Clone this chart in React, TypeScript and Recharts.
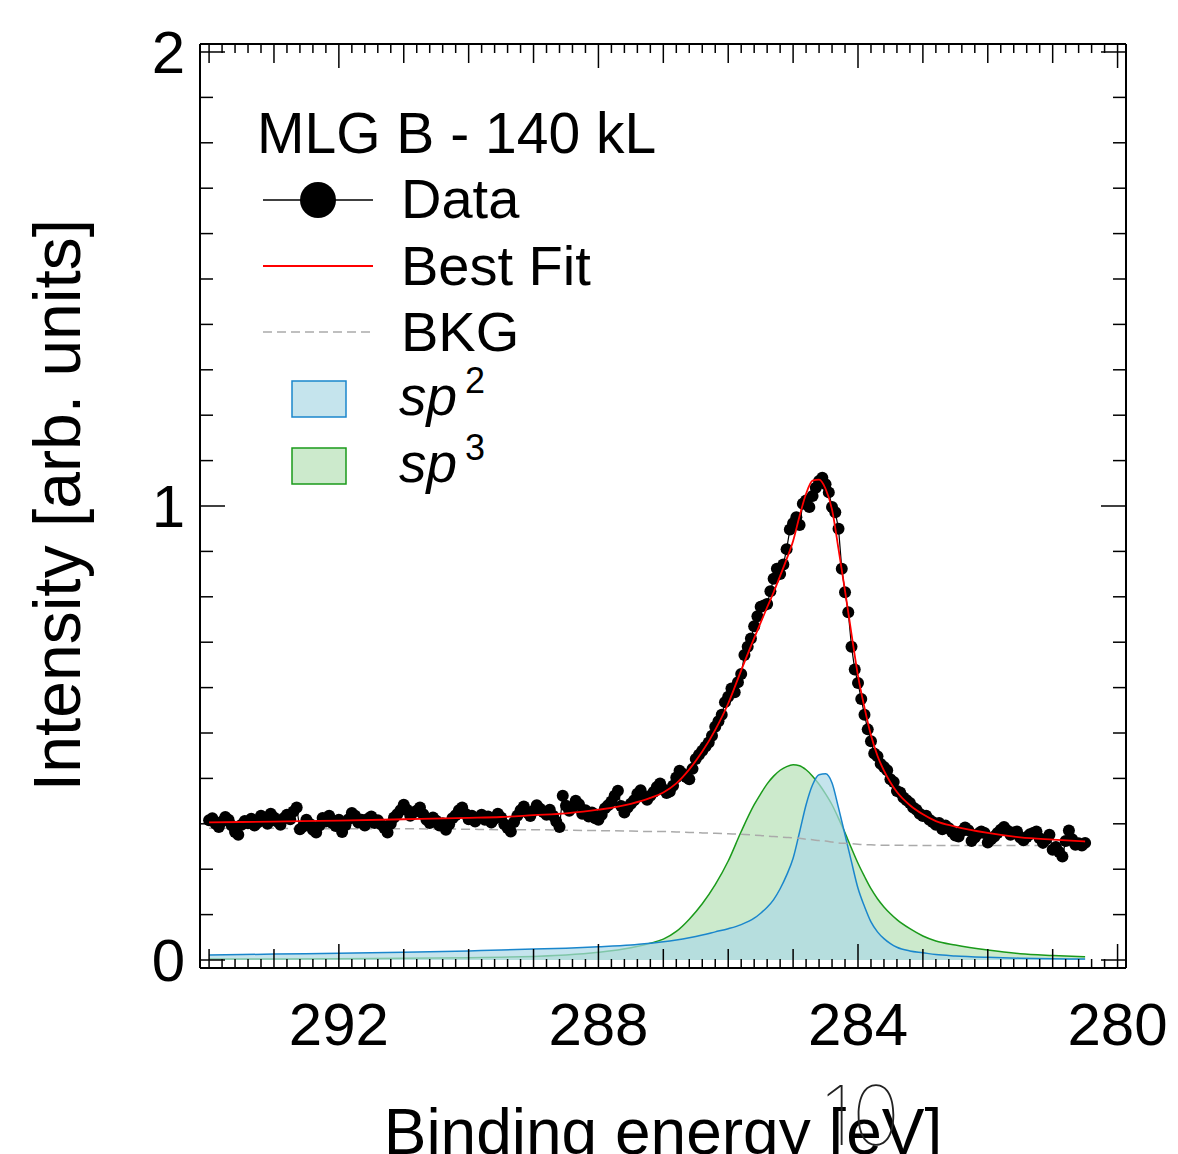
import { ComposedChart, Line, Area, XAxis, YAxis } from "recharts";

// fit grid (binding energy, eV) and fitted components
const FIT_E = [
  294, 293, 292, 291, 290, 289.5, 289, 288.5, 288, 287.5, 287.2, 287, 286.8, 286.6, 286.4, 286.2, 286,
  285.8, 285.6, 285.5, 285.4, 285.3, 285.2, 285.1, 285, 284.9, 284.8, 284.7, 284.6, 284.5, 284.4, 284.3,
  284.2, 284.1, 284, 283.9, 283.8, 283.7, 283.6, 283.5, 283.4, 283.2, 283, 282.8, 282.5, 282, 281.5, 281, 280.5,
];
const SP2 = [
  0.011, 0.013, 0.015, 0.017, 0.02, 0.022, 0.024, 0.026, 0.029, 0.033, 0.037, 0.04, 0.044, 0.049, 0.055, 0.062, 0.069,
  0.078, 0.092, 0.103, 0.116, 0.133, 0.157, 0.187, 0.224, 0.282, 0.342, 0.386, 0.408, 0.41, 0.39, 0.335,
  0.276, 0.216, 0.158, 0.118, 0.084, 0.062, 0.047, 0.036, 0.028, 0.02, 0.016, 0.012, 0.009, 0.006, 0.004, 0.003, 0.002,
];
const SP3 = [
  0.002, 0.002, 0.003, 0.004, 0.005, 0.006, 0.008, 0.011, 0.017, 0.027, 0.037, 0.046, 0.063, 0.09, 0.124, 0.166, 0.218,
  0.283, 0.342, 0.366, 0.388, 0.405, 0.418, 0.426, 0.43, 0.428, 0.419, 0.405, 0.387, 0.366, 0.342, 0.312,
  0.28, 0.246, 0.213, 0.184, 0.157, 0.135, 0.117, 0.102, 0.089, 0.069, 0.053, 0.042, 0.033, 0.022, 0.014, 0.01, 0.007,
];
const BKG = [
  0.29, 0.29, 0.289, 0.289, 0.288, 0.287, 0.287, 0.286, 0.285, 0.284, 0.283, 0.283, 0.282, 0.281, 0.28, 0.279, 0.278,
  0.277, 0.275, 0.274, 0.273, 0.272, 0.271, 0.27, 0.269, 0.268, 0.266, 0.265, 0.263, 0.262, 0.26, 0.258,
  0.257, 0.256, 0.255, 0.254, 0.254, 0.253, 0.253, 0.253, 0.253, 0.252, 0.252, 0.252, 0.252, 0.252, 0.252, 0.252, 0.252,
];
const BEST_FIT = [
  0.303, 0.305, 0.307, 0.31, 0.313, 0.315, 0.319, 0.323, 0.331, 0.344, 0.357, 0.369, 0.389, 0.42, 0.459, 0.507, 0.565,
  0.638, 0.709, 0.743, 0.777, 0.81, 0.846, 0.883, 0.923, 0.978, 1.027, 1.056, 1.058, 1.038, 0.992, 0.905,
  0.813, 0.718, 0.626, 0.556, 0.495, 0.45, 0.417, 0.391, 0.37, 0.341, 0.321, 0.306, 0.294, 0.28, 0.27, 0.265, 0.261,
];

// measured spectrum: 294.00 eV down to 280.50 eV, 0.05 eV steps
const DATA_E0 = 294.0;
const DATA_STEP = 0.05;
const DATA_I = [
  // 294.00 - 293.00
  0.308, 0.312, 0.3, 0.293, 0.305, 0.315, 0.309, 0.296, 0.282, 0.276, 0.298, 0.306, 0.301, 0.311, 0.296, 0.303, 0.318, 0.309, 0.3, 0.322, 0.314,
  // 292.95 - 292.00
  0.305, 0.298, 0.312, 0.32, 0.31, 0.327, 0.336, 0.288, 0.294, 0.309, 0.3, 0.287, 0.281, 0.296, 0.313, 0.305, 0.318, 0.302, 0.295, 0.309,
  // 291.95 - 291.00
  0.282, 0.297, 0.31, 0.324, 0.318, 0.303, 0.309, 0.296, 0.311, 0.316, 0.302, 0.308, 0.299, 0.291, 0.281, 0.3, 0.314, 0.321, 0.33, 0.342,
  // 290.95 - 290.00
  0.331, 0.318, 0.325, 0.329, 0.336, 0.321, 0.309, 0.302, 0.314, 0.307, 0.296, 0.301, 0.287, 0.299, 0.312, 0.319, 0.33, 0.336, 0.322, 0.31,
  // 289.95 - 289.00
  0.318, 0.305, 0.313, 0.32, 0.309, 0.316, 0.303, 0.311, 0.322, 0.314, 0.299, 0.291, 0.283, 0.304, 0.318, 0.33, 0.338, 0.325, 0.317, 0.329,
  // 288.95 - 288.00
  0.341, 0.333, 0.326, 0.32, 0.331, 0.318, 0.305, 0.293, 0.362, 0.34, 0.329, 0.336, 0.351, 0.343, 0.322, 0.33, 0.316, 0.325, 0.312, 0.309,
  // 287.95 - 287.00
  0.32, 0.334, 0.341, 0.349, 0.362, 0.373, 0.339, 0.325, 0.336, 0.344, 0.352, 0.366, 0.374, 0.36, 0.353, 0.362, 0.37, 0.381, 0.389, 0.376,
  // 286.95 - 286.00
  0.368, 0.371, 0.384, 0.402, 0.417, 0.41, 0.403, 0.398, 0.421, 0.443, 0.452, 0.461, 0.47, 0.479, 0.494, 0.514, 0.526, 0.54, 0.568, 0.58,
  // 285.95 - 285.00
  0.598, 0.59, 0.612, 0.63, 0.672, 0.69, 0.708, 0.735, 0.757, 0.778, 0.781, 0.784, 0.812, 0.84, 0.862, 0.85, 0.871, 0.905, 0.948, 0.962,
  // 284.95 - 284.00
  0.975, 0.958, 1.005, 1.012, 0.998, 1.022, 1.04, 1.055, 1.062, 1.048, 1.03, 0.998, 0.986, 0.95, 0.862, 0.81, 0.766, 0.69, 0.64, 0.61,
  // 283.95 - 283.00
  0.575, 0.54, 0.508, 0.482, 0.455, 0.449, 0.432, 0.425, 0.418, 0.398, 0.392, 0.372, 0.369, 0.358, 0.352, 0.346, 0.336, 0.331, 0.322, 0.317,
  // 282.95 - 282.00
  0.318, 0.309, 0.304, 0.298, 0.302, 0.288, 0.296, 0.29, 0.282, 0.274, 0.272, 0.284, 0.292, 0.286, 0.262, 0.27, 0.278, 0.283, 0.28, 0.259,
  // 281.95 - 281.00
  0.266, 0.272, 0.28, 0.287, 0.293, 0.285, 0.276, 0.281, 0.283, 0.27, 0.264, 0.271, 0.277, 0.28, 0.283, 0.268, 0.258, 0.266, 0.276, 0.243,
  // 280.95 - 280.50
  0.249, 0.238, 0.228, 0.262, 0.285, 0.266, 0.254, 0.257, 0.252, 0.258,
];

const X_DOMAIN: [number, number] = [279.87, 294.14];
const Y_DOMAIN: [number, number] = [-0.0176, 2.0176];
const X_LABEL_TICKS = [280, 284, 288, 292];
const Y_LABEL_TICKS = [0, 1, 2];

// every 0.2 eV / every 0.1 units; long ticks picked out in the tick renderers
const xTicks = Array.from({ length: 71 }, (_, i) => +(280 + i * 0.2).toFixed(1));
const yTicks = Array.from({ length: 21 }, (_, i) => +(i * 0.1).toFixed(1));

const fitRows = FIT_E.map((e, i) => ({ e, sp2: SP2[i], sp3: SP3[i], bkg: BKG[i], fit: BEST_FIT[i] }));
const dataRows = DATA_I.map((v, i) => ({ e: +(DATA_E0 - i * DATA_STEP).toFixed(2), v }));

const W = 1178;
const H = 1154;
const MARGIN = { top: 44, right: 52, left: 200, bottom: 186 };
const FONT = "'Liberation Sans', Arial, Helvetica, sans-serif";
const FRAME = { stroke: "#000", strokeWidth: 2 };

const SP2_STROKE = "#1a86cc";
const SP2_FILL = "#add8e6";
const SP3_STROKE = "#1a9a1a";
const SP3_FILL = "#8fd18f";

const near = (a: number, b: number) => Math.abs(a - b) < 1e-6;
const isXLabel = (v: number) => X_LABEL_TICKS.some((t) => near(t, v));
const isInt = (v: number) => near(v, Math.round(v));
const xLen = (v: number) => (isXLabel(v) ? 24 : isInt(v) ? 19 : 9);
const yLen = (v: number) => (isInt(v) ? 25 : 13);

function BottomTick(props: any) {
  const { x, y, payload } = props;
  const v = payload.value;
  return (
    <g>
      <line x1={x} x2={x} y1={y} y2={y - xLen(v)} stroke="#000" strokeWidth={1.5} />
      {isXLabel(v) && (
        <text x={x} y={y + 77} textAnchor="middle" fontSize={60} fontFamily={FONT} fill="#000">
          {Math.round(v)}
        </text>
      )}
    </g>
  );
}

function TopTick(props: any) {
  const { x, y, payload } = props;
  return <line x1={x} x2={x} y1={y} y2={y + xLen(payload.value)} stroke="#000" strokeWidth={1.5} />;
}

function LeftTick(props: any) {
  const { x, y, payload } = props;
  const v = payload.value;
  return (
    <g>
      <line x1={x} x2={x + yLen(v)} y1={y} y2={y} stroke="#000" strokeWidth={1.5} />
      {isInt(v) && (
        <text x={x - 15} y={y + 21} textAnchor="end" fontSize={60} fontFamily={FONT} fill="#000">
          {Math.round(v)}
        </text>
      )}
    </g>
  );
}

function RightTick(props: any) {
  const { x, y, payload } = props;
  return <line x1={x} x2={x - yLen(payload.value)} y1={y} y2={y} stroke="#000" strokeWidth={1.5} />;
}

const xCommon = {
  type: "number" as const,
  dataKey: "e",
  domain: X_DOMAIN,
  reversed: true,
  allowDataOverflow: true,
  height: 1,
  mirror: true,
  ticks: xTicks,
  tickSize: 0,
  tickMargin: 0,
  tickLine: false,
  axisLine: FRAME,
  interval: 0 as const,
};

const yCommon = {
  type: "number" as const,
  domain: Y_DOMAIN,
  allowDataOverflow: true,
  width: 1,
  mirror: true,
  ticks: yTicks,
  tickSize: 0,
  tickMargin: 0,
  tickLine: false,
  axisLine: FRAME,
  interval: 0 as const,
};

export default function App() {
  return (
    <div style={{ position: "absolute", left: 0, top: 0, width: W, height: H, overflow: "hidden", background: "#fff" }}>
      <div style={{ position: "absolute", left: 0, top: 0 }}>
        <ComposedChart width={W} height={H} margin={MARGIN}>
          <XAxis xAxisId="bottom" orientation="bottom" {...xCommon} tick={BottomTick} />
          <XAxis xAxisId="top" orientation="top" {...xCommon} tick={TopTick} />
          <YAxis yAxisId="left" orientation="left" {...yCommon} tick={LeftTick} />
          <YAxis yAxisId="right" orientation="right" {...yCommon} tick={RightTick} />
          <Area
            data={fitRows}
            xAxisId="bottom"
            yAxisId="left"
            type="monotone"
            dataKey="sp3"
            baseValue={0}
            stroke={SP3_STROKE}
            strokeWidth={1.5}
            fill={SP3_FILL}
            fillOpacity={0.45}
            isAnimationActive={false}
          />
          <Area
            data={fitRows}
            xAxisId="bottom"
            yAxisId="left"
            type="monotone"
            dataKey="sp2"
            baseValue={0}
            stroke={SP2_STROKE}
            strokeWidth={1.5}
            fill={SP2_FILL}
            fillOpacity={0.7}
            isAnimationActive={false}
          />
          <Line
            data={fitRows}
            xAxisId="bottom"
            yAxisId="left"
            type="monotone"
            dataKey="bkg"
            stroke="#aaaaaa"
            strokeWidth={1.5}
            strokeDasharray="9 5"
            dot={false}
            isAnimationActive={false}
          />
          <Line
            data={dataRows}
            xAxisId="bottom"
            yAxisId="left"
            type="linear"
            dataKey="v"
            stroke="#000"
            strokeWidth={1.2}
            dot={{ r: 6, fill: "#000", stroke: "#000", strokeWidth: 0 }}
            isAnimationActive={false}
          />
        </ComposedChart>
      </div>

      {/* best fit drawn in its own layer so it stays above the data markers */}
      <div style={{ position: "absolute", left: 0, top: 0, pointerEvents: "none" }}>
        <ComposedChart width={W} height={H} margin={MARGIN}>
          <XAxis xAxisId="f" hide type="number" dataKey="e" domain={X_DOMAIN} reversed allowDataOverflow />
          <YAxis yAxisId="f" hide type="number" domain={Y_DOMAIN} allowDataOverflow />
          <Line
            data={fitRows}
            xAxisId="f"
            yAxisId="f"
            type="monotone"
            dataKey="fit"
            stroke="#ff0000"
            strokeWidth={1.8}
            dot={false}
            isAnimationActive={false}
          />
        </ComposedChart>
      </div>

      <svg
        width={W}
        height={H}
        style={{ position: "absolute", left: 0, top: 0, pointerEvents: "none" }}
        fontFamily={FONT}
      >
        <text x={257} y={153} fontSize={57} fill="#000">MLG B - 140 kL</text>

        <line x1={263} x2={373} y1={200} y2={200} stroke="#000" strokeWidth={1.5} />
        <circle cx={318} cy={200} r={18} fill="#000" />
        <text x={401} y={218} fontSize={56} fill="#000">Data</text>

        <line x1={263} x2={373} y1={266} y2={266} stroke="#ff0000" strokeWidth={1.8} />
        <text x={401} y={285} fontSize={56} fill="#000">Best Fit</text>

        <line x1={263} x2={373} y1={332} y2={332} stroke="#aaaaaa" strokeWidth={1.5} strokeDasharray="9 5" />
        <text x={401} y={351} fontSize={56} fill="#000">BKG</text>

        <rect x={292} y={381} width={54} height={36} fill={SP2_FILL} fillOpacity={0.7} stroke={SP2_STROKE} strokeWidth={1.5} />
        <text x={399} y={415} fontSize={55} fontStyle="italic" fill="#000">sp</text>
        <text x={465} y={393} fontSize={36} fill="#000">2</text>

        <rect x={292} y={448} width={54} height={36} fill={SP3_FILL} fillOpacity={0.45} stroke={SP3_STROKE} strokeWidth={1.5} />
        <text x={399} y={482} fontSize={55} fontStyle="italic" fill="#000">sp</text>
        <text x={465} y={460} fontSize={36} fill="#000">3</text>

        <text transform="translate(80, 505) rotate(-90)" textAnchor="middle" fontSize={66} fill="#000">
          Intensity [arb. units]
        </text>
        <text x={663} y={1154} textAnchor="middle" fontSize={64} fill="#000">
          Binding energy [eV]
        </text>
        <text x={861} y={1145} textAnchor="middle" fontSize={82} fontFamily="Inter, 'DejaVu Sans', sans-serif" fontWeight={100} fill="#222">
          10
        </text>
      </svg>
    </div>
  );
}
